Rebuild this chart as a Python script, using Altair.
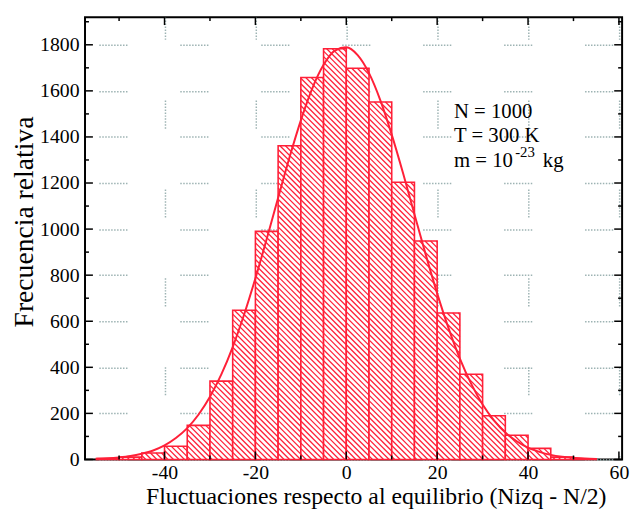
import math
import altair as alt
import pandas as pd

# ---------------- data ----------------
bin_left = [-55, -50, -45, -40, -35, -30, -25, -20, -15, -10, -5,
            0, 5, 10, 15, 20, 25, 30, 35, 40, 45, 50]
counts = [4, 10, 28, 57, 148, 340, 648, 990, 1362, 1658, 1783,
          1698, 1552, 1203, 948, 636, 370, 190, 105, 48, 10, 3]
BIN_W = 5

curve_x = [-55.0, -52.5, -50.0, -47.5, -45.0, -42.5, -40.0, -37.5, -35.0, -32.5,
           -30.0, -27.5, -25.0, -22.5, -20.0, -17.5, -15.0, -12.5, -10.0, -7.5,
           -5.0, -2.5, 0.0, 2.5, 5.0, 7.5, 10.0, 12.5, 15.0, 17.5,
           20.0, 22.5, 25.0, 27.5, 30.0, 32.5, 35.0, 37.5, 40.0, 42.5,
           45.0, 47.5, 50.0, 52.5, 55.0]
curve_y = [3, 5, 9, 15, 25, 39, 61, 93, 136, 195,
           272, 369, 488, 628, 786, 958, 1136, 1311, 1472, 1610,
           1713, 1775, 1789, 1755, 1677, 1559, 1410, 1242, 1064, 888,
           721, 570, 438, 328, 239, 170, 117, 79, 51, 33,
           20, 12, 7, 4, 2]

x_ticks = [-40, -20, 0, 20, 40, 60]
x_minor = [-50, -30, -10, 10, 30, 50]
y_ticks = [0, 200, 400, 600, 800, 1000, 1200, 1400, 1600, 1800]
y_minor = [100, 300, 500, 700, 900, 1100, 1300, 1500, 1700, 1900]

ann_lines = ["N = 1000", "T = 300 K", "m = 10"]
ann_sup = "-23"
ann_unit = "kg"
x_title = "Fluctuaciones respecto al equilibrio (Nizq - N/2)"
y_title = "Frecuencia relativa"

# ---------------- layout / style ----------------
W, H = 544, 448
XMIN, XMAX = -57.5, 60.7
YMAX = 1920
RED = "#ff2038"
FONT = "Liberation Serif"
GRID = "#9db3b3"

xs = alt.Scale(domain=[XMIN, XMAX], nice=False, zero=False)
ys = alt.Scale(domain=[0, YMAX], nice=False, zero=False)
xax = alt.Axis(title=x_title, values=x_ticks)
yax = alt.Axis(title=y_title, values=y_ticks)


def X(field):
    return alt.X(field, scale=xs, axis=xax)


def Y(field):
    return alt.Y(field, scale=ys, axis=yax)


bars_df = pd.DataFrame({
    "x0": bin_left,
    "x1": [b + BIN_W for b in bin_left],
    "count": counts,
    "base": [0] * len(bin_left),
})

# hatch segments derived from the bars (45 degree lines in pixel space)
sx = W / (XMAX - XMIN)
sy = H / YMAX
SP = 5.6
segs = []
for left, h in zip(bin_left, counts):
    u0 = (left - XMIN) * sx
    u1 = (left + BIN_W - XMIN) * sx
    vh = h * sy
    for k in range(math.ceil(u0 / SP), math.floor((u1 + vh) / SP) + 1):
        c = k * SP
        ua = max(u0, c - vh)
        ub = min(u1, c)
        if ub - ua > 0.3:
            segs.append({"hx": XMIN + ua / sx, "hy": (c - ua) / sy,
                         "hx2": XMIN + ub / sx, "hy2": (c - ub) / sy})
hatch_df = pd.DataFrame(segs)

curve_df = pd.DataFrame({"cx": curve_x, "cy": curve_y})

bars = alt.Chart(bars_df).mark_rect(fill="white", stroke=RED, strokeWidth=1.6).encode(
    x=X("x0:Q"), x2="x1:Q", y=Y("count:Q"), y2="base:Q",
)

hatch = alt.Chart(hatch_df).mark_rule(color=RED, strokeWidth=1.3).encode(
    x=X("hx:Q"), x2="hx2:Q", y=Y("hy:Q"), y2="hy2:Q",
)

curve = alt.Chart(curve_df).mark_line(color=RED, strokeWidth=2, interpolate="monotone").encode(
    x=X("cx:Q"), y=Y("cy:Q"),
)


def xticks(vals, length, top):
    ch = alt.Chart(pd.DataFrame({"tv": vals})).mark_rule(color="black", strokeWidth=1.5)
    if top:
        return ch.encode(x=X("tv:Q"), y=alt.value(0), y2=alt.value(length))
    return ch.encode(x=X("tv:Q"), y=alt.value(H), y2=alt.value(H - length))


def yticks(vals, length, right):
    ch = alt.Chart(pd.DataFrame({"tv": vals})).mark_rule(color="black", strokeWidth=1.5)
    if right:
        return ch.encode(y=Y("tv:Q"), x=alt.value(W), x2=alt.value(W - length))
    return ch.encode(y=Y("tv:Q"), x=alt.value(0), x2=alt.value(length))


ticks = [
    xticks(x_ticks, 8, False), xticks(x_minor, 4, False),
    xticks(x_ticks, 8, True), xticks(x_minor, 4, True),
    yticks(y_ticks, 8, False), yticks(y_minor, 4, False),
    yticks(y_ticks, 8, True), yticks(y_minor, 4, True),
]

ANN_X = 23.7
ann_df = pd.DataFrame({"ax": [ANN_X] * 3, "ay": [1483, 1376, 1269], "t": ann_lines})
ann = alt.Chart(ann_df).mark_text(align="left", baseline="alphabetic", font=FONT,
                                  fontSize=21, color="black").encode(
    x=X("ax:Q"), y=Y("ay:Q"), text="t:N",
)
sup_df = pd.DataFrame({"ax": [ANN_X], "ay": [1269], "t": [ann_sup]})
sup = alt.Chart(sup_df).mark_text(align="left", baseline="alphabetic", font=FONT,
                                  fontSize=15, color="black", dx=62, dy=-10).encode(
    x=X("ax:Q"), y=Y("ay:Q"), text="t:N",
)
unit_df = pd.DataFrame({"ax": [ANN_X], "ay": [1269], "t": [ann_unit]})
unit = alt.Chart(unit_df).mark_text(align="left", baseline="alphabetic", font=FONT,
                                    fontSize=21, color="black", dx=90).encode(
    x=X("ax:Q"), y=Y("ay:Q"), text="t:N",
)

chart = alt.layer(bars, hatch, curve, *ticks, ann, sup, unit).properties(
    width=W, height=H,
    autosize=alt.AutoSizeParams(type="none"),
    padding={"left": 78, "top": 6, "right": 8, "bottom": 54},
).configure(font=FONT).configure_view(
    stroke="black", strokeWidth=2
).configure_axisX(
    grid=True, gridColor=GRID, gridWidth=1.5,
    gridDash=[1.5, 1.5] * 9 + [1.5, 61.5], gridDashOffset=6,
    domain=False, ticks=False, tickSize=0,
    labelFont=FONT, labelFontSize=20, labelColor="black", labelPadding=19,
    labelBaseline="alphabetic", labelFlush=False, labelExpr="'' + datum.value",
    titleFont=FONT, titleFontSize=24, titleFontWeight="normal", titleColor="black",
    titleX=294.5, titleY=44.7, titleBaseline="alphabetic", titleAlign="center",
).configure_axisY(
    grid=True, gridColor=GRID, gridWidth=1.5,
    gridDash=[1.5, 1.5] * 9 + [1.5, 53.5], gridDashOffset=68,
    domain=False, ticks=False, tickSize=0,
    labelFont=FONT, labelFontSize=20, labelColor="black", labelPadding=6,
    labelFlush=False, labelExpr="'' + datum.value",
    titleFont=FONT, titleFontSize=28, titleFontWeight="normal", titleColor="black",
    titleX=-53, titleY=207, titleAngle=270, titleBaseline="alphabetic", titleAlign="center",
)

chart.save("out.html", embed_options={"renderer": "svg", "actions": False})
